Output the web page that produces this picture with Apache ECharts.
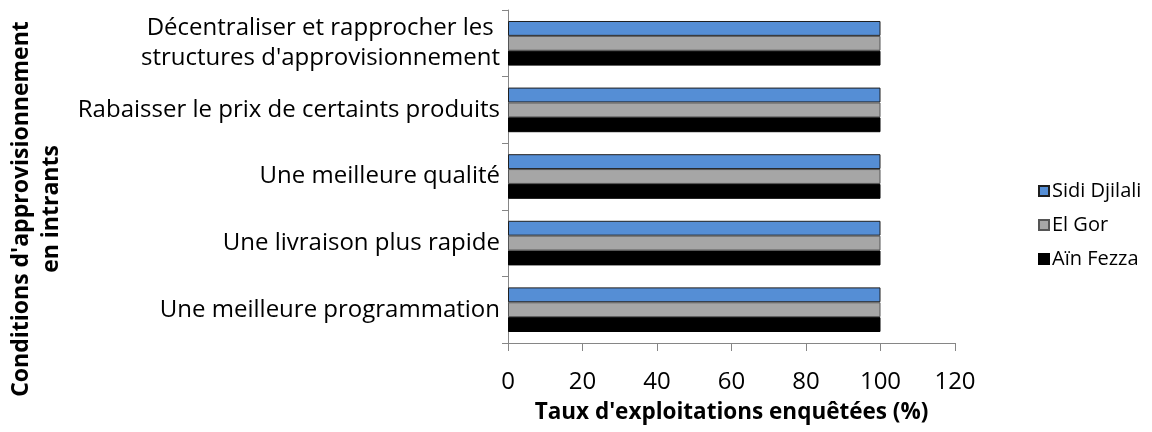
<!DOCTYPE html>
<html>
<head>
<meta charset="utf-8">
<script src="https://cdn.jsdelivr.net/npm/echarts@6/dist/echarts.min.js"></script>
<style>
  html, body { margin: 0; padding: 0; background: #fff; }
  #chart { width: 1152px; height: 432px; }
</style>
</head>
<body>
<div id="chart"></div>
<script>
// Categories, listed bottom to top along the vertical axis
const categories = [
  'Une meilleure programmation',
  'Une livraison plus rapide',
  'Une meilleure qualité',
  'Rabaisser le prix de certaints produits',
  'Décentraliser et rapprocher les \nstructures d\'approvisionnement'
];

// Share of surveyed farms (%) per zone
const sidiDjilali = [100, 100, 100, 100, 100];
const elGor       = [100, 100, 100, 100, 100];
const ainFezza    = [100, 100, 100, 100, 100];

const xTicks = [0, 20, 40, 60, 80, 100, 120];
const legendOrder = ['Sidi Djilali', 'El Gor', 'Aïn Fezza'];

const yTitle = 'Conditions d\'approvisionnement\nen intrants';
const xTitle = 'Taux d\'exploitations enquêtées (%)';

const FONT = '"Open Sans", "Noto Sans", sans-serif';

const chart = echarts.init(document.getElementById('chart'));

function barSeries(name, data, color, border) {
  return {
    name: name,
    type: 'bar',
    data: data,
    barGap: '0%',
    barCategoryGap: '33%',
    itemStyle: { color: color, borderColor: border, borderWidth: 1 }
  };
}

chart.setOption({
  animation: false,
  textStyle: { fontFamily: FONT },
  grid: { left: 508, right: 197, top: 10, bottom: 89, containLabel: false, outerBoundsMode: 'none' },
  legend: {
    orient: 'vertical',
    left: 1033,
    top: 173,
    itemWidth: 10,
    itemHeight: 10,
    itemGap: 8,
    icon: 'rect',
    data: legendOrder,
    textStyle: { fontFamily: FONT, fontSize: 20, color: '#000', padding: [0, 0, 0, -2], lineHeight: 26 }
  },
  // vertical axis title, centred on the full chart height
  graphic: [{
    type: 'text',
    x: 36,
    y: 209,
    rotation: Math.PI / 2,
    style: {
      text: yTitle,
      fontFamily: FONT,
      fontSize: 23,
      fontWeight: 'bold',
      fill: '#000',
      lineHeight: 30,
      align: 'center',
      verticalAlign: 'middle'
    }
  }],
  xAxis: {
    type: 'value',
    min: xTicks[0],
    max: xTicks[xTicks.length - 1],
    interval: 20,
    name: xTitle,
    nameLocation: 'middle',
    nameGap: 58,
    nameTextStyle: { fontFamily: FONT, fontSize: 22.5, fontWeight: 'bold', color: '#000' },
    axisLine: { show: true, lineStyle: { color: '#868686', width: 1 } },
    axisTick: { show: true, length: 8, inside: false, lineStyle: { color: '#868686' } },
    axisLabel: { fontFamily: FONT, fontSize: 24, color: '#000', margin: 27 },
    splitLine: { show: false }
  },
  yAxis: {
    type: 'category',
    data: categories,
    axisLine: { show: true, lineStyle: { color: '#868686', width: 1 } },
    axisTick: { show: true, length: 6, lineStyle: { color: '#868686' } },
    axisLabel: { fontFamily: FONT, fontSize: 24, color: '#000', margin: 8, lineHeight: 30, align: 'right' }
  },
  series: [
    barSeries('Sidi Djilali', sidiDjilali, '#558ed5', '#1f1f1f'),
    barSeries('El Gor', elGor, '#a6a6a6', '#555555'),
    barSeries('Aïn Fezza', ainFezza, '#000000', '#000000')
  ]
});
</script>
</body>
</html>
